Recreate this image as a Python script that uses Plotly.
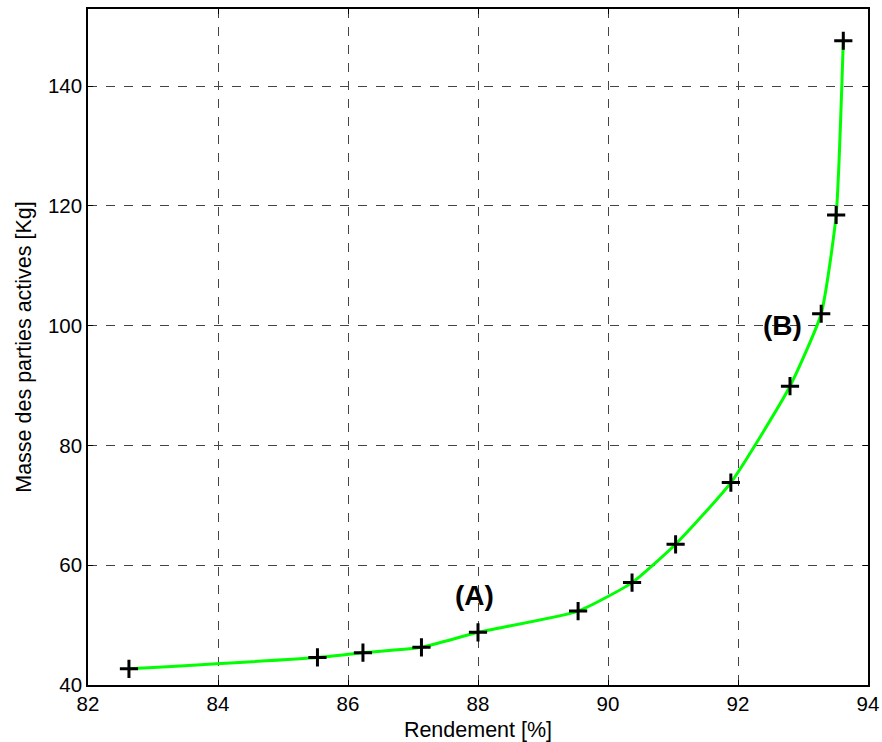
import plotly.graph_objects as go

rendement = [82.63, 85.53, 86.23, 87.13, 88.0, 89.54, 90.37, 91.04, 91.89, 92.80, 93.28, 93.51, 93.62]
masse = [42.7, 44.6, 45.4, 46.3, 48.8, 52.35, 57.1, 63.5, 73.8, 89.9, 102.0, 118.5, 147.6]

annot_text = ["(A)", "(B)"]
annot_x = [87.94, 92.68]
annot_y = [54.9, 100.1]

x_ticks = [82, 84, 86, 88, 90, 92, 94]
y_ticks = [40, 60, 80, 100, 120, 140]

FONT = "Liberation Sans, Arial, Helvetica"

fig = go.Figure()
fig.add_trace(go.Scatter(
    x=rendement, y=masse, mode="lines",
    line=dict(color="#00ff00", width=3, shape="spline", smoothing=0.5),
    showlegend=False, hoverinfo="skip"))
fig.add_trace(go.Scatter(
    x=rendement, y=masse, mode="markers",
    marker=dict(symbol="cross-thin", size=13, line=dict(color="black", width=3)),
    showlegend=False))

for t, x, y in zip(annot_text, annot_x, annot_y):
    fig.add_annotation(x=x, y=y, text="<b>%s</b>" % t, showarrow=False,
                       font=dict(family=FONT, size=28, color="black"))

axis_common = dict(
    showline=True, linecolor="black", linewidth=1.5, mirror="ticks",
    ticks="inside", ticklen=5, tickcolor="black",
    showgrid=True, gridcolor="#444444", griddash="dash", gridwidth=1,
    zeroline=False, automargin=False,
    tickfont=dict(family=FONT, size=20.5, color="black"),
)

fig.update_xaxes(range=[82, 94], tickvals=x_ticks,
                 title=dict(text="Rendement [%]", standoff=8,
                            font=dict(family=FONT, size=21.5, color="black")),
                 **axis_common)
fig.update_yaxes(range=[40, 152.9], tickvals=y_ticks,
                 title=dict(text="Masse des parties actives [Kg]", standoff=10,
                            font=dict(family=FONT, size=21.5, color="black")),
                 **axis_common)

fig.update_layout(
    width=882, height=742,
    margin=dict(l=88, r=14, t=9, b=57),
    paper_bgcolor="white", plot_bgcolor="white",
)

fig.write_html("out.html", config={"displayModeBar": False},
               post_script="document.body.style.margin='0';")
